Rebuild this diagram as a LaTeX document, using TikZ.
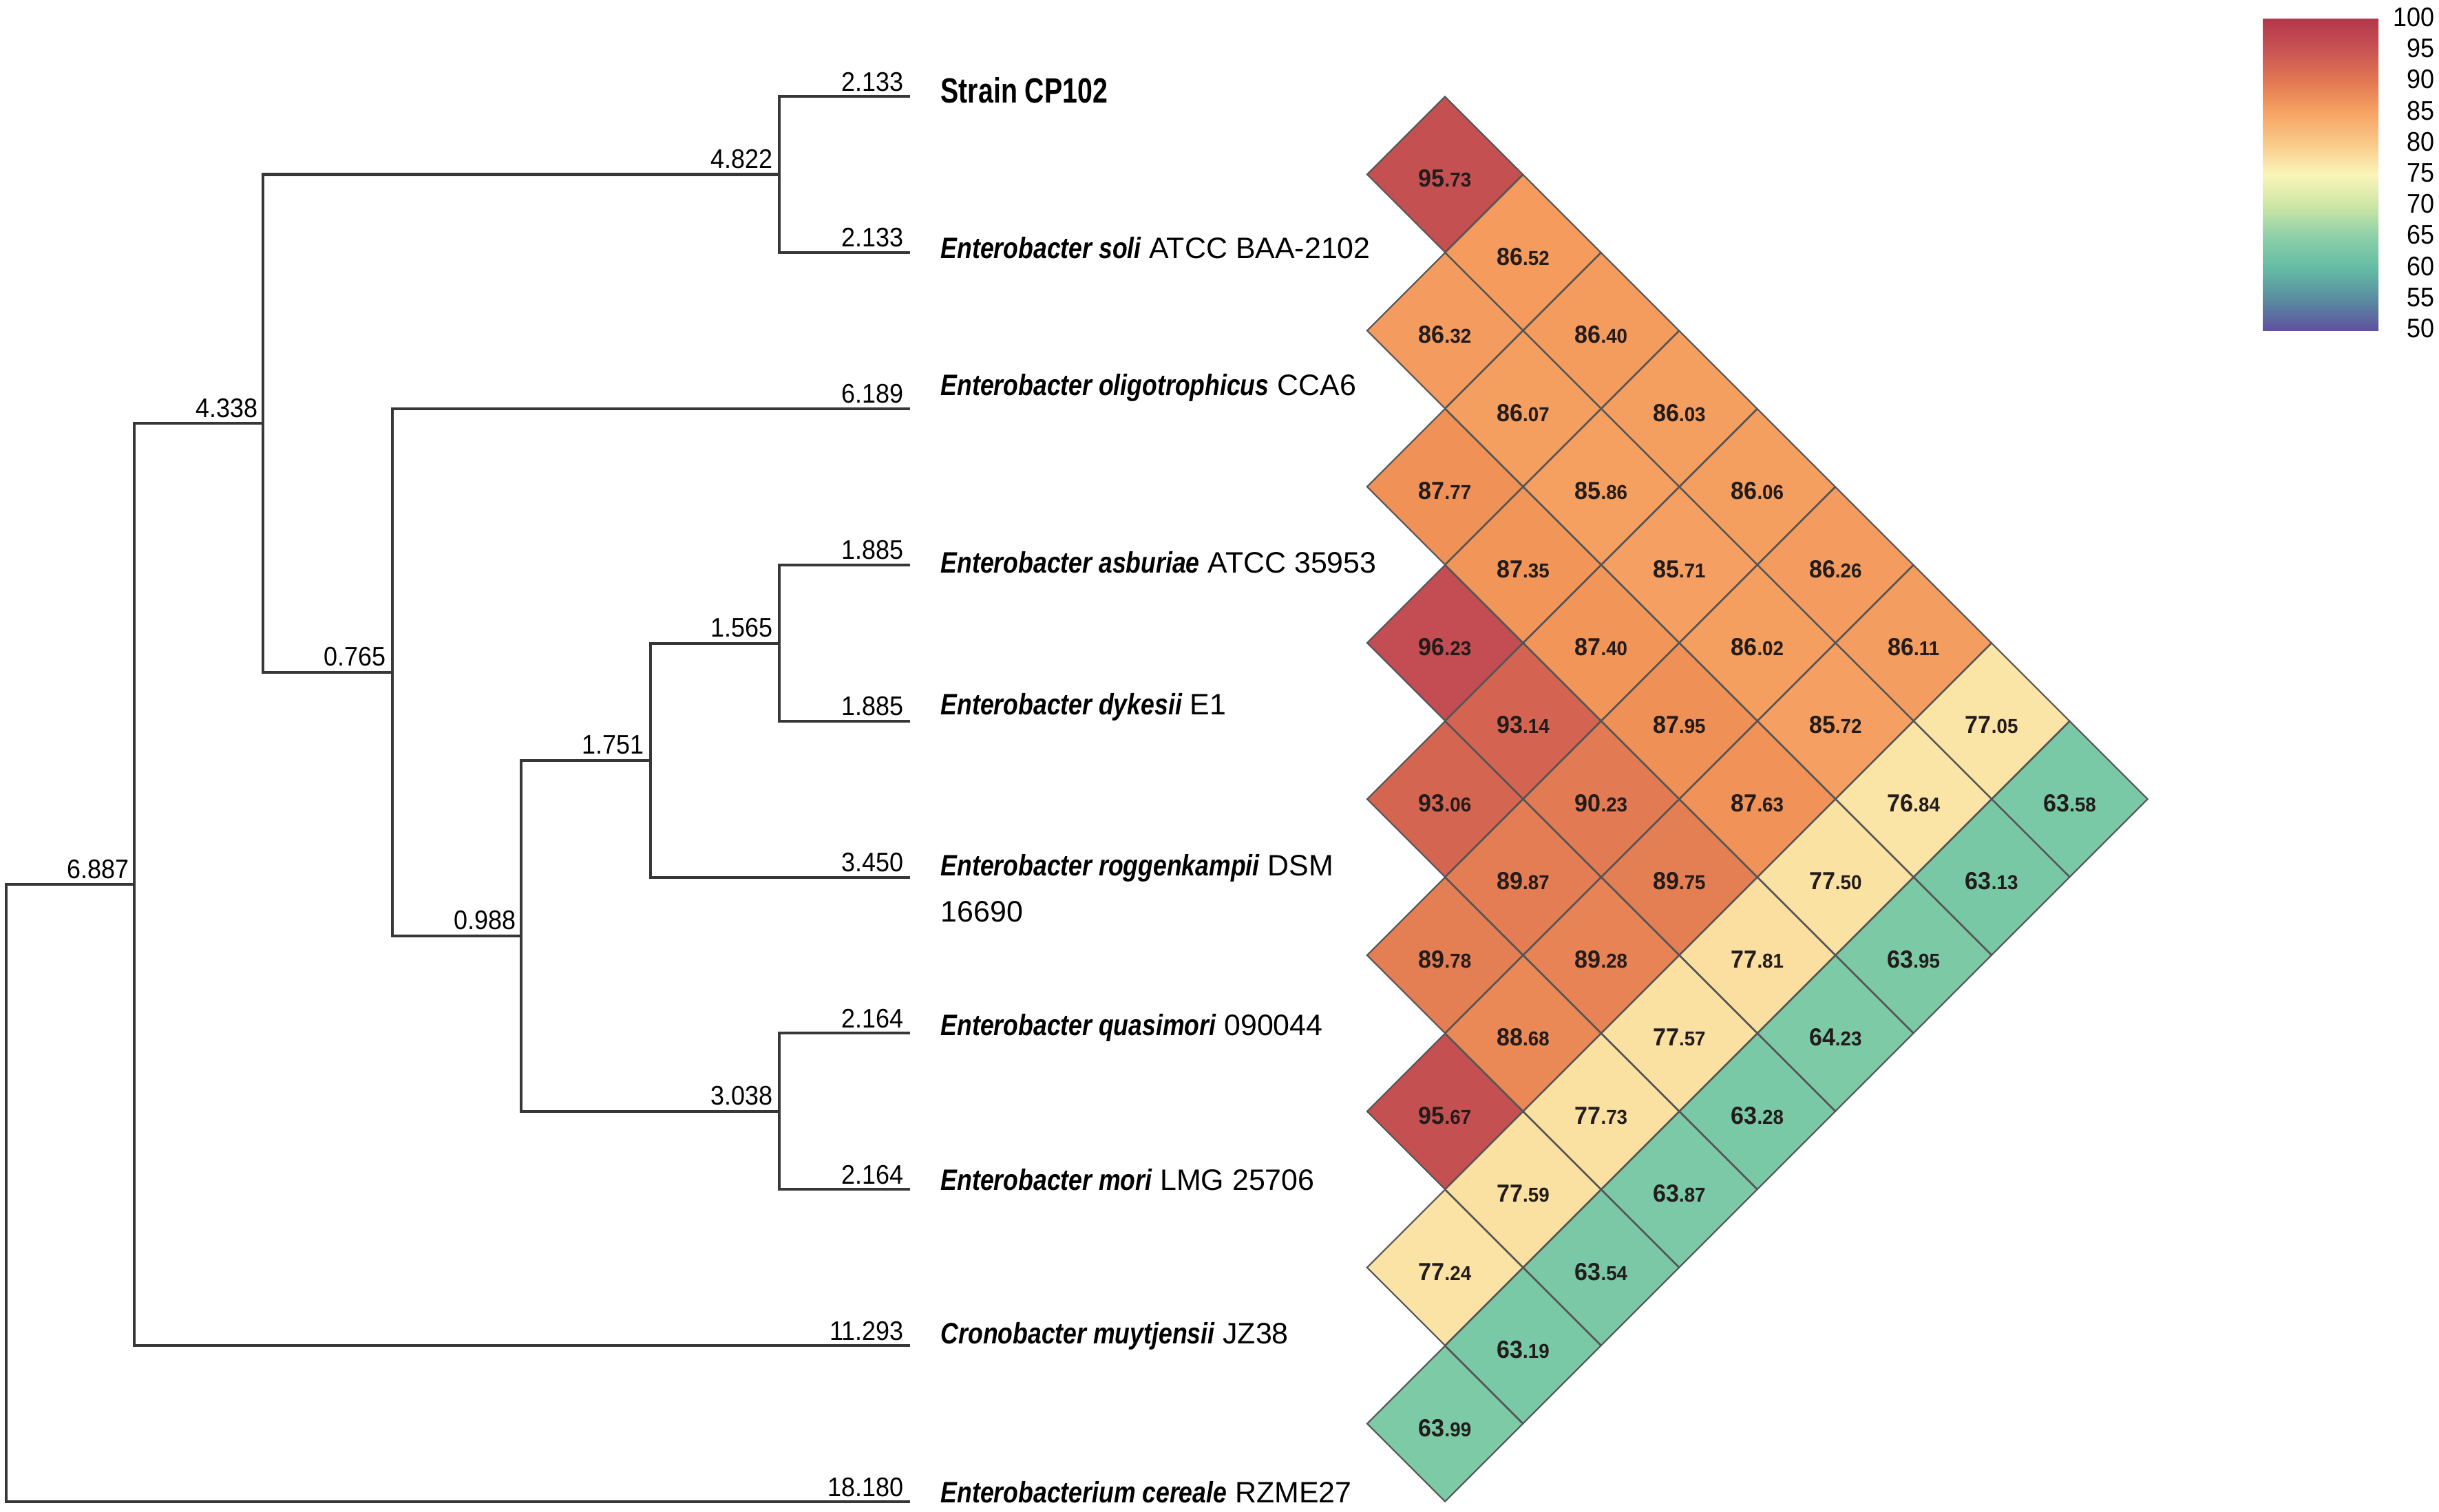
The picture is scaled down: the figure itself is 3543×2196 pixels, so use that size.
\documentclass[tikz,border=0pt]{standalone}
\usepackage{fontspec}
\setmainfont{Liberation Sans}
\newfontfamily\numfont[FakeStretch=0.92]{Liberation Sans}
\newfontfamily\cellfont[FakeStretch=0.95]{Liberation Sans}
\newfontfamily\spfont[FakeStretch=0.83]{Liberation Sans}
\newfontfamily\strainfont[FakeStretch=0.77]{Liberation Sans}
\usetikzlibrary{shapes.geometric}

\definecolor{treec}{RGB}{55,55,55}
\definecolor{cellline}{RGB}{85,85,85}
\definecolor{celltext}{RGB}{35,28,28}
% legend stops
\definecolor{s100}{RGB}{180,55,75}
\definecolor{s95}{RGB}{200,84,84}
\definecolor{s90}{RGB}{226,120,82}
\definecolor{s85}{RGB}{247,163,99}
\definecolor{s80}{RGB}{248,202,137}
\definecolor{s75}{RGB}{250,245,185}
\definecolor{s70}{RGB}{205,230,165}
\definecolor{s65}{RGB}{140,208,168}
\definecolor{s60}{RGB}{100,188,165}
\definecolor{s55}{RGB}{90,140,160}
\definecolor{s50}{RGB}{95,80,160}
% cell stops, every 2.5 units (index = value/2.5)
\definecolor{q25}{RGB}{118,198,165}
\definecolor{q26}{RGB}{128,204,167}
\definecolor{q27}{RGB}{150,212,168}
\definecolor{q30}{RGB}{250,238,178}
\definecolor{q31}{RGB}{250,226,163}
\definecolor{q32}{RGB}{249,205,140}
\definecolor{q33}{RGB}{248,185,120}
\definecolor{q34}{RGB}{246,165,102}
\definecolor{q35}{RGB}{242,148,88}
\definecolor{q36}{RGB}{227,124,83}
\definecolor{q37}{RGB}{216,106,80}
\definecolor{q38}{RGB}{200,84,83}
\definecolor{q39}{RGB}{190,70,80}

\pgfdeclareverticalshading{spectral}{100bp}{color(0bp)=(s50); color(25bp)=(s50); color(30bp)=(s55); color(35bp)=(s60); color(40bp)=(s65); color(45bp)=(s70); color(50bp)=(s75); color(55bp)=(s80); color(60bp)=(s85); color(65bp)=(s90); color(70bp)=(s95); color(75bp)=(s100); color(100bp)=(s100)}

\newcommand\hmcolor[1]{%
  \pgfmathsetmacro\hmk{int(floor(#1/2.5))}%
  \pgfmathsetmacro\hmkk{int(\hmk+1)}%
  \pgfmathsetmacro\hmp{(#1/2.5-\hmk)*100}%
  \colorlet{cellc}{q\hmkk!\hmp!q\hmk}}
\newcommand\spn[1]{{\spfont\bfseries\itshape #1}}

\begin{document}
\begin{tikzpicture}[x=0.01cm,y=-0.01cm,
  tree/.style={line width=1.15pt, draw=treec, line cap=rect},
  brl/.style={anchor=base east, inner sep=0pt, font=\numfont\fontsize{11.1pt}{13pt}\selectfont},
  splab/.style={anchor=base west, inner sep=0pt, font=\fontsize{12.2pt}{14pt}\selectfont},
  cellbox/.style={diamond, aspect=1, draw=cellline, line width=0.6pt, minimum width=2.269cm, minimum height=2.269cm, inner sep=0pt},
  celltxt/.style={inner sep=0pt, text=celltext, font=\cellfont\bfseries},
  leglab/.style={anchor=east, inner sep=0pt, font=\numfont\fontsize{11.1pt}{13pt}\selectfont}
]
\useasboundingbox (0,0) rectangle (3543,2196);
\fill[white] (0,0) rectangle (3543,2196);

% ---------- tree ----------
\foreach \k in {0,...,9}{\coordinate (L\k) at (1320,{140+226.9*\k});}
\coordinate (R) at (9,1733.5);
\coordinate (A) at (195,1285);
\coordinate (B) at (382,615.2);
\coordinate (C) at (1132,253.5);
\coordinate (D) at (570,976.8);
\coordinate (E) at (757,1359.6);
\coordinate (F) at (945,1104.75);
\coordinate (G) at (1132,934.5);
\coordinate (H) at (1132,1614.5);

\draw[tree] (A) -| (R);  \draw[tree] (L9) -| (R);
\draw[tree] (B) -| (A);  \draw[tree] (L8) -| (A);
\draw[tree] (C) -| (B);  \draw[tree] (D) -| (B);
\draw[tree] (L0) -| (C); \draw[tree] (L1) -| (C);
\draw[tree] (L2) -| (D); \draw[tree] (E) -| (D);
\draw[tree] (F) -| (E);  \draw[tree] (H) -| (E);
\draw[tree] (G) -| (F);  \draw[tree] (L5) -| (F);
\draw[tree] (L3) -| (G); \draw[tree] (L4) -| (G);
\draw[tree] (L6) -| (H); \draw[tree] (L7) -| (H);

% branch lengths
\node[brl] (bA) at ([xshift=-0.07cm,yshift=0.09cm]A) {6.887};
\node[brl] (bB) at ([xshift=-0.07cm,yshift=0.09cm]B) {4.338};
\node[brl] (bC) at ([xshift=-0.09cm,yshift=0.09cm]C) {4.822};
\node[brl] (bD) at ([xshift=-0.09cm,yshift=0.09cm]D) {0.765};
\node[brl] (bE) at ([xshift=-0.07cm,yshift=0.09cm]E) {0.988};
\node[brl] (bF) at ([xshift=-0.09cm,yshift=0.09cm]F) {1.751};
\node[brl] (bG) at ([xshift=-0.09cm,yshift=0.09cm]G) {1.565};
\node[brl] (bH) at ([xshift=-0.09cm,yshift=0.09cm]H) {3.038};
\foreach \k/\t in {0/2.133,1/2.133,2/6.189,3/1.885,4/1.885,5/3.450,6/2.164,7/2.164,8/11.293,9/18.180}{
  \node[brl] (bL\k) at ([xshift=-0.07cm,yshift=0.08cm]L\k) {\t};}

% species labels
\node[anchor=base west, inner sep=0pt, font=\strainfont\bfseries\fontsize{14.5pt}{16pt}\selectfont] (lab0) at (1366,149) {Strain CP102};
\node[splab] (lab1) at (1366,375) {\spn{Enterobacter soli} ATCC BAA-2102};
\node[splab] (lab2) at (1366,574) {\spn{Enterobacter oligotrophicus} CCA6};
\node[splab] (lab3) at (1366,832) {\spn{Enterobacter asburiae} ATCC 35953};
\node[splab] (lab4) at (1366,1038) {\spn{Enterobacter dykesii} E1};
\node[splab] (lab5) at (1366,1272) {\spn{Enterobacter roggenkampii} DSM};
\node[splab] (lab5b) at (1366,1339) {16690};
\node[splab] (lab6) at (1366,1504) {\spn{Enterobacter quasimori} 090044};
\node[splab] (lab7) at (1366,1729) {\spn{Enterobacter mori} LMG 25706};
\node[splab] (lab8) at (1366,1952) {\spn{Cronobacter muytjensii} JZ38};
\node[splab] (lab9) at (1366,2183) {\spn{Enterobacterium cereale} RZME27};

% ---------- heatmap ----------
\foreach \i/\j/\a/\b in {
  0/1/95/73, 1/2/86/32, 2/3/87/77, 3/4/96/23, 4/5/93/06, 5/6/89/78, 6/7/95/67, 7/8/77/24, 8/9/63/99,
  0/2/86/52, 1/3/86/07, 2/4/87/35, 3/5/93/14, 4/6/89/87, 5/7/88/68, 6/8/77/59, 7/9/63/19,
  0/3/86/40, 1/4/85/86, 2/5/87/40, 3/6/90/23, 4/7/89/28, 5/8/77/73, 6/9/63/54,
  0/4/86/03, 1/5/85/71, 2/6/87/95, 3/7/89/75, 4/8/77/57, 5/9/63/87,
  0/5/86/06, 1/6/86/02, 2/7/87/63, 3/8/77/81, 4/9/63/28,
  0/6/86/26, 1/7/85/72, 2/8/77/50, 3/9/64/23,
  0/7/86/11, 1/8/76/84, 2/9/63/95,
  0/8/77/05, 1/9/63/13,
  0/9/63/58}{
  \hmcolor{\a.\b}
  \pgfmathsetmacro\cx{2099+(\j-\i-1)*113.45}
  \pgfmathsetmacro\cy{140+113.45*(\i+\j)}
  \node[cellbox, fill=cellc] (c\i-\j) at (\cx,\cy) {};
  \node[celltxt] (t\i-\j) at ([yshift=-0.06cm]c\i-\j.center) {\fontsize{10.2pt}{12pt}\selectfont\a\fontsize{8.3pt}{10pt}\selectfont.\b};
}

% ---------- legend ----------
\shade[shading=spectral] (3287,27) rectangle (3455,480);
\foreach \v in {100,95,...,50}{
  \node[leglab] (leg\v) at (3537,{25+(100-\v)*9.04}) {\v};}
\end{tikzpicture}
\end{document}
